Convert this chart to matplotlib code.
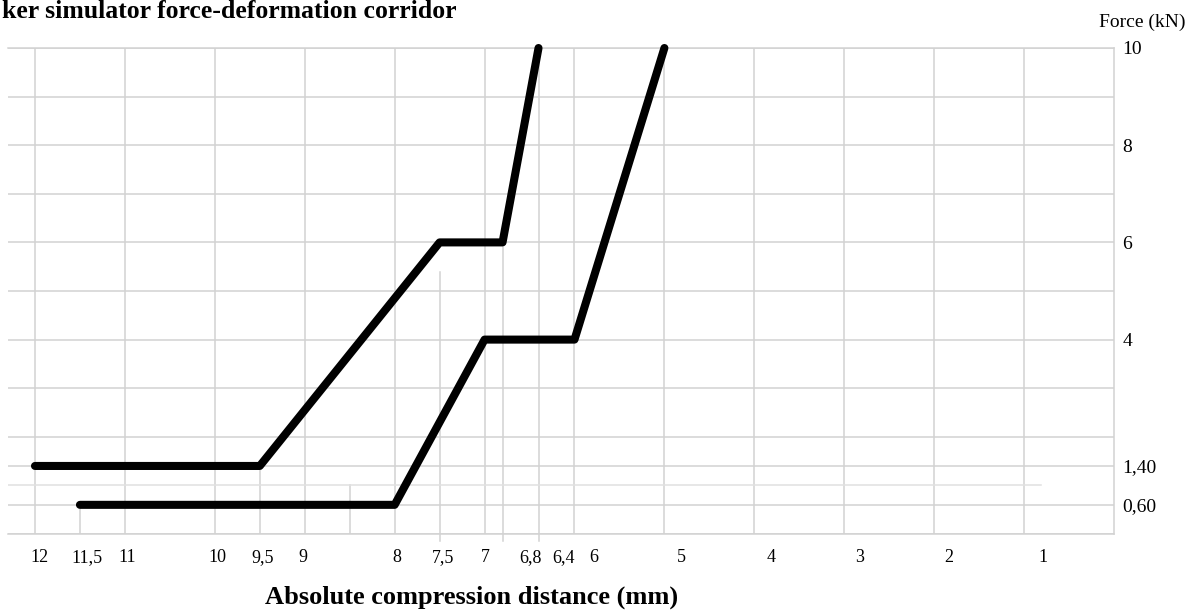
import matplotlib
matplotlib.use('Agg')
import matplotlib.pyplot as plt
from matplotlib import transforms

plt.rcParams['font.family'] = ['Liberation Serif', 'DejaVu Serif']

# corridor limits (distance mm, force kN)
upper_x = [12, 9.5, 7.5, 6.8, 6.4]
upper_y = [1.4, 1.4, 6, 6, 10]
lower_x = [11.5, 8, 7, 6, 5]
lower_y = [0.6, 0.6, 4, 4, 10]

x_ticks = [12, 11.5, 11, 10, 9.5, 9, 8, 7.5, 7, 6.8, 6.4, 6, 5, 4, 3, 2, 1]
x_tick_labels = ['12', '11,5', '11', '10', '9,5', '9', '8', '7,5', '7',
                 '6,8', '6,4', '6', '5', '4', '3', '2', '1']
y_ticks = [10, 8, 6, 4, 1.4, 0.6]
y_tick_labels = ['10', '8', '6', '4', '1,40', '0,60']

# grid of the original drawing
full_vlines = [12, 11, 10, 9, 8, 7, 6.4, 6, 5, 4, 3, 2, 1]
short_vlines = [11.5, 9.5, 8.5, 7.5, 6.8]
short_vline_tops = [0.6, 1.4, 1.0, 5.4, 6]
stub_vlines = [7.5, 6.8, 6.4]
hlines = [0, 0.6, 1.4, 2, 3, 4, 5, 6, 7, 8, 9, 10]

# labels in the picture sit a bit right of their grid lines (pixels)
x_label_shift_px = [4, 7, 2, 3, 3, -2, 2, 3, 1, 28, 25, 19, 17, 17, 15, 15, 19]

grid_color = '#d2d2d2'

fig = plt.figure(figsize=(12, 6.15), dpi=100)
ax = fig.add_axes([8 / 1200, (615 - 534) / 615, 1106 / 1200, 486 / 615])
ax.set_xlim(12.3, 0.0)
ax.set_ylim(0, 10)

for x in full_vlines:
    ax.plot([x, x], [0, 10], color=grid_color, lw=1.1, zorder=1)
for x, top in zip(short_vlines, short_vline_tops):
    ax.plot([x, x], [0, top], color=grid_color, lw=1.1, zorder=1)
for x in stub_vlines:
    ax.plot([x, x], [-0.15, 0], color=grid_color, lw=1.1, zorder=1, clip_on=False)
for y in hlines:
    ax.plot([12.3, 0.0], [y, y], color=grid_color, lw=1.1, zorder=1)
# the 1 kN line stops short of the right border
ax.plot([12.3, 0.81], [1, 1], color='#e0e0e0', lw=1.1, zorder=1)

ax.plot(upper_x, upper_y, color='black', lw=5.8, solid_capstyle='round',
        solid_joinstyle='round', zorder=3, clip_on=False)
ax.plot(lower_x, lower_y, color='black', lw=5.8, solid_capstyle='round',
        solid_joinstyle='round', zorder=3, clip_on=False)

for side in ['top', 'right', 'bottom']:
    ax.spines[side].set_color(grid_color)
    ax.spines[side].set_linewidth(1.1)
ax.spines['left'].set_visible(False)

ax.set_xticks([])
ax.yaxis.tick_right()
ax.set_yticks(y_ticks)
ax.set_yticklabels(y_tick_labels)
ax.tick_params(axis='y', length=0, pad=6, labelsize=14)

# x tick labels drawn by hand so they can keep the picture's offsets
trans = transforms.blended_transform_factory(ax.transData, fig.transFigure)
for x, lab, dx in zip(x_ticks, x_tick_labels, x_label_shift_px):
    t = trans + transforms.ScaledTranslation(dx / 100, 0, fig.dpi_scale_trans)
    ax.text(x, 1 - 558 / 615, lab, transform=t, ha='center', va='center',
            fontsize=13, clip_on=False)

fig.text(2 / 1200, 1 - 18 / 615, 'ker simulator force-deformation corridor',
         ha='left', va='baseline', fontsize=18.5, fontweight='bold')
fig.text(472 / 1200, 1 - 604 / 615, 'Absolute compression distance (mm)',
         ha='center', va='baseline', fontsize=19, fontweight='bold')
fig.text(1142 / 1200, 1 - 22 / 615, 'Force (kN)', ha='center', va='center',
         fontsize=14)

fig.savefig('out.png', dpi=100)
